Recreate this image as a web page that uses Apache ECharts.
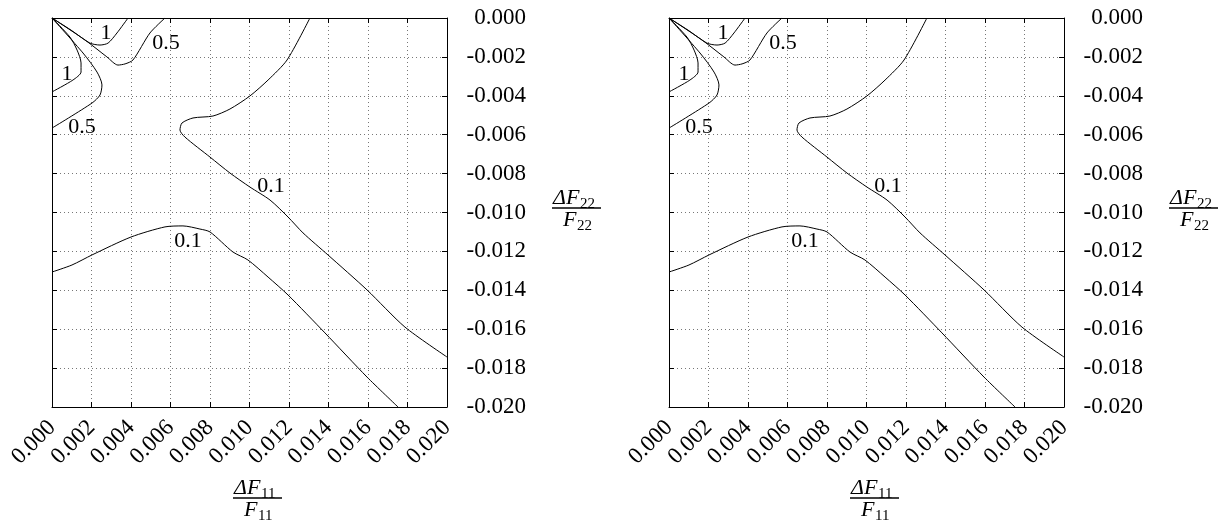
<!DOCTYPE html>
<html>
<head>
<meta charset="utf-8">
<script src="https://cdn.jsdelivr.net/npm/echarts@6/dist/echarts.min.js"></script>
<style>
html,body{margin:0;padding:0;background:#fff;}
#chart{width:1231px;height:524px;}
</style>
</head>
<body>
<div id="chart"></div>
<script>
// ---- data (x = ΔF11/F11, y = ΔF22/F22) ----
const xTickLabels = ['0.000','0.002','0.004','0.006','0.008','0.010','0.012','0.014','0.016','0.018','0.020'];
const yTickLabels = ['-0.020','-0.018','-0.016','-0.014','-0.012','-0.010','-0.008','-0.006','-0.004','-0.002','0.000'];

const contourUpper1 = [
  [0,0],[0.00096,-0.00062],[0.00192,-0.00129],[0.00243,-0.00139],[0.00284,-0.00129],
  [0.00329,-0.00077],[0.00385,0]
];
const contourUpper05 = [
  [0,0],[0.00167,-0.00113],[0.00278,-0.00200],[0.00334,-0.00242],[0.00370,-0.00236],
  [0.00410,-0.00216],[0.00496,-0.00077],[0.00572,0]
];
const contourLeft1 = [
  [0,0],[0.00091,-0.00098],[0.00127,-0.00165],[0.00147,-0.00231],[0.00147,-0.00278],
  [0.00106,-0.00319],[0,-0.00380]
];
const contourLeft05 = [
  [0,0],[0.00157,-0.00180],[0.00228,-0.00278],[0.00253,-0.00344],[0.00243,-0.00396],
  [0.00203,-0.00437],[0,-0.00566]
];
const contourUpper01 = [
  [0.01306,0],[0.01190,-0.00216],[0.01094,-0.00319],[0.01002,-0.00401],[0.00901,-0.00468],
  [0.00815,-0.00504],[0.00714,-0.00514],[0.00658,-0.00540],[0.00648,-0.00576],[0.00673,-0.00612],
  [0.00800,-0.00715],[0.00901,-0.00797],[0.01002,-0.00869],[0.01104,-0.00936],[0.01195,-0.01023],
  [0.01271,-0.01105],[0.01397,-0.01218],[0.01595,-0.01398],[0.01787,-0.01589],[0.02,-0.01743]
];
const contourLower01 = [
  [0,-0.01306],[0.00101,-0.01270],[0.00203,-0.01218],[0.00400,-0.01126],[0.00572,-0.01074],
  [0.00663,-0.01069],[0.00749,-0.01085],[0.00800,-0.01100],[0.00916,-0.01203],[0.00992,-0.01244],
  [0.01094,-0.01332],[0.01195,-0.01424],[0.01382,-0.01619],[0.01595,-0.01846],[0.01752,-0.02]
];
const contourLabels = [
  [0.00273,-0.00077,'1'],
  [0.00577,-0.00129,'0.5'],
  [0.00076,-0.00288,'1'],
  [0.00152,-0.00560,'0.5'],
  [0.01109,-0.00864,'0.1'],
  [0.00689,-0.01146,'0.1']
];
const contours = [contourUpper1, contourUpper05, contourLeft1, contourLeft05, contourUpper01, contourLower01];

// ---- layout / style ----
const FONT = '"Liberation Serif", "DejaVu Serif", serif';
const panels = [{left:52}, {left:669}];
const gridTop = 18, gridW = 395, gridH = 389;

const grid = [], xAxis = [], yAxis = [], series = [], graphic = [];

function fraction(barX, barY, sub) {
  const els = [];
  els.push({type:'text', x:barX+1, y:barY-10, style:{text:'ΔF', font:'italic 22px '+FONT, fill:'#000', align:'left', verticalAlign:'middle'}});
  els.push({type:'text', x:barX+28, y:barY-4, style:{text:sub, font:'15px '+FONT, fill:'#000', align:'left', verticalAlign:'middle'}});
  els.push({type:'line', shape:{x1:barX, y1:barY, x2:barX+49, y2:barY}, style:{stroke:'#000', lineWidth:1.6}});
  els.push({type:'text', x:barX+11, y:barY+12, style:{text:'F', font:'italic 22px '+FONT, fill:'#000', align:'left', verticalAlign:'middle'}});
  els.push({type:'text', x:barX+25, y:barY+18, style:{text:sub, font:'15px '+FONT, fill:'#000', align:'left', verticalAlign:'middle'}});
  return els;
}

const gridLine = {show:true, lineStyle:{color:'#777', width:1, type:[1,3]}};
const axisLine = {show:true, onZero:false, lineStyle:{color:'#000', width:1}};

panels.forEach((p, gi) => {
  grid.push({left:p.left, top:gridTop, width:gridW, height:gridH, containLabel:false});
  const xi = xAxis.length, yi = yAxis.length;
  xAxis.push({
    type:'value', gridIndex:gi, min:0, max:0.02, interval:0.002, position:'bottom',
    axisLine, axisTick:{show:true, inside:true, length:5, lineStyle:{color:'#000'}},
    splitLine:gridLine,
    axisLabel:{show:true, rotate:45, margin:17, color:'#000', fontFamily:FONT, fontSize:23,
      formatter:(v)=>xTickLabels[Math.round(v/0.002)]}
  });
  xAxis.push({
    type:'value', gridIndex:gi, min:0, max:0.02, interval:0.002, position:'top',
    axisLine, axisTick:{show:true, inside:true, length:5, lineStyle:{color:'#000'}},
    splitLine:{show:false}, axisLabel:{show:false}
  });
  yAxis.push({
    type:'value', gridIndex:gi, min:-0.02, max:0, interval:0.002, position:'right',
    axisLine, axisTick:{show:true, inside:true, length:5, lineStyle:{color:'#000'}},
    splitLine:gridLine,
    axisLabel:{show:true, margin:79, align:'right', color:'#000', fontFamily:FONT, fontSize:23,
      padding:[0,0,7,0], formatter:(v)=>yTickLabels[Math.round((v+0.02)/0.002)]}
  });
  yAxis.push({
    type:'value', gridIndex:gi, min:-0.02, max:0, interval:0.002, position:'left',
    axisLine, axisTick:{show:true, inside:true, length:5, lineStyle:{color:'#000'}},
    splitLine:{show:false}, axisLabel:{show:false}
  });
  contours.forEach(c => {
    series.push({type:'line', xAxisIndex:xi, yAxisIndex:yi, data:c, showSymbol:false, symbol:'none',
      smooth:0.25, clip:true, lineStyle:{color:'#000', width:1}, silent:true, z:3});
  });
  series.push({type:'scatter', xAxisIndex:xi, yAxisIndex:yi, data:contourLabels, symbolSize:0, silent:true, z:4,
    itemStyle:{color:'#000', opacity:1},
    label:{show:true, position:'inside', formatter:(d)=>d.value[2], color:'#000', textBorderWidth:0,
      opacity:1, fontFamily:FONT, fontSize:22}});
  graphic.push(...fraction(p.left + 181, 498, '11'));
  graphic.push(...fraction(p.left + 500, 208, '22'));
});

const chart = echarts.init(document.getElementById('chart'), null, {renderer:'canvas'});
chart.setOption({animation:false, backgroundColor:'#fff', grid, xAxis, yAxis, series, graphic});
</script>
</body>
</html>
